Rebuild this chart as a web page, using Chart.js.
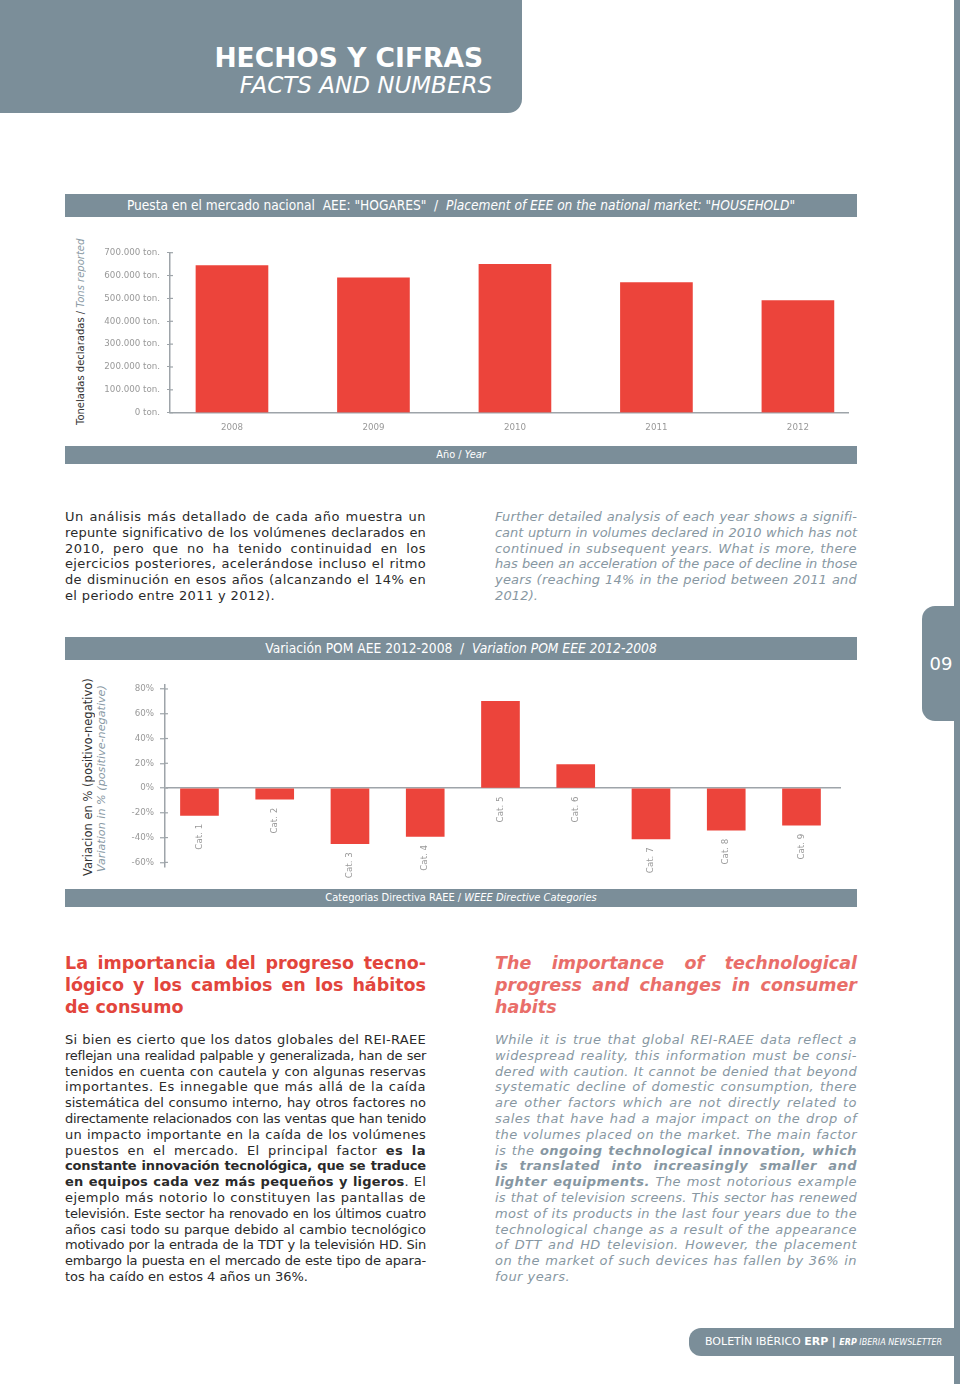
<!DOCTYPE html>
<html>
<head>
<meta charset="utf-8">
<script src="https://cdn.jsdelivr.net/npm/chart.js@4.4.1/dist/chart.umd.min.js"></script>
<style>
body { margin: 0; background: #fff; }
#page { position: relative; width: 960px; height: 1384px; overflow: hidden; font-family: "DejaVu Sans", Verdana, sans-serif; }
.grey { position: absolute; background: #7b8e99; color: #fff; }
.band { position: absolute; left: 65px; width: 792px; background: #7b8e99; color: #fff; text-align: center; white-space: nowrap;
        font-family: "DejaVu Sans Condensed", "Liberation Sans Narrow", "Liberation Sans", sans-serif; }
.small { font-family: "DejaVu Sans", sans-serif; }
.txt { position: absolute; font-size: 13px; }
.txt div { height: 15.8px; line-height: 15.8px; text-align: justify; text-align-last: justify; }
.txt div.end { text-align-last: left; }
.es { color: #2a2a2a; }
.en { color: #8797a2; font-style: italic; }
.head { position: absolute; font-size: 17.5px; font-weight: bold; }
.head div { height: 22px; line-height: 22px; text-align: justify; text-align-last: justify; }
.head div.end { text-align-last: left; }
.vt { position: absolute; writing-mode: vertical-rl; transform: rotate(180deg); white-space: nowrap; text-align: start; }
canvas { position: absolute; }
</style>
</head>
<body>
<div id="page">
  <!-- header -->
  <div class="grey" style="left:0;top:0;width:522px;height:113px;border-bottom-right-radius:14px;"></div>
  <div style="position:absolute;right:477px;top:43px;color:#fff;font-weight:bold;font-size:26.5px;line-height:30px;white-space:nowrap;">HECHOS Y CIFRAS</div>
  <div style="position:absolute;right:468px;top:72px;color:#fff;font-style:italic;font-size:23px;line-height:26px;white-space:nowrap;">FACTS AND NUMBERS</div>

  <!-- right strip and page tab -->
  <div class="grey" style="left:954px;top:0;width:6px;height:1384px;"></div>
  <div class="grey" style="left:922px;top:606px;width:38px;height:115px;border-radius:13px 0 0 13px;font-size:18px;line-height:115px;text-align:center;">09</div>

  <!-- chart 1 -->
  <div class="band" style="top:194px;height:23px;line-height:23px;font-size:13.6px;">Puesta en el mercado nacional&nbsp; AEE: "HOGARES"&nbsp; /&nbsp; <i>Placement of EEE on the national market: "HOUSEHOLD"</i></div>
  <div class="vt" style="left:74.5px;top:236px;height:189px;width:12px;line-height:12px;font-size:10px;"><span style="color:#333">Toneladas declaradas / </span><i style="color:#8a9aa5">Tons reported</i></div>
  <canvas id="tons" width="800" height="200" style="left:60px;top:240px;"></canvas>
  <div class="band small" style="top:446px;height:18px;line-height:18px;font-size:9.8px;">Año / <i>Year</i></div>

  <!-- paragraph 1 -->
  <div class="txt es" style="left:65px;top:509px;width:361px;">
    <div>Un análisis más detallado de cada año muestra un</div>
    <div>repunte significativo de los volúmenes declarados en</div>
    <div>2010, pero que no ha tenido continuidad en los</div>
    <div>ejercicios posteriores, acelerándose incluso el ritmo</div>
    <div>de disminución en esos años (alcanzando el 14% en</div>
    <div class="end">el periodo entre 2011 y 2012).</div>
  </div>
  <div class="txt en" style="left:495px;top:509px;width:362px;">
    <div>Further detailed analysis of each year shows a signifi-</div>
    <div>cant upturn in volumes declared in 2010 which has not</div>
    <div>continued in subsequent years. What is more, there</div>
    <div>has been an acceleration of the pace of decline in those</div>
    <div>years (reaching 14% in the period between 2011 and</div>
    <div class="end">2012).</div>
  </div>

  <!-- chart 2 -->
  <div class="band" style="top:637px;height:23px;line-height:23px;font-size:13.7px;">Variación POM AEE 2012-2008&nbsp; /&nbsp; <i>Variation POM EEE 2012-2008</i></div>
  <div class="vt" style="left:81.5px;top:660px;height:216px;width:13px;line-height:13px;font-size:11.5px;color:#333;">Variacion en % (positivo-negativo)</div>
  <div class="vt" style="left:95.5px;top:660px;height:212px;width:12px;line-height:12px;font-size:11.2px;color:#8a9aa5;font-style:italic;">Variation in % (positive-negative)</div>
  <canvas id="pom" width="800" height="215" style="left:60px;top:670px;"></canvas>
  <div class="band small" style="top:889px;height:18px;line-height:18px;font-size:9.9px;">Categorias Directiva RAEE / <i>WEEE Directive Categories</i></div>

  <!-- headings -->
  <div class="head" style="left:65px;top:952px;width:361px;color:#e2453c;">
    <div>La importancia del progreso tecno-</div>
    <div>lógico y los cambios en los hábitos</div>
    <div class="end">de consumo</div>
  </div>
  <div class="head" style="left:495px;top:952px;width:362px;color:#e96e69;font-style:italic;">
    <div>The importance of technological</div>
    <div>progress and changes in consumer</div>
    <div class="end">habits</div>
  </div>

  <!-- paragraph 2 -->
  <div class="txt es" style="left:65px;top:1032px;width:361px;">
    <div>Si bien es cierto que los datos globales del REI-RAEE</div>
    <div>reflejan una realidad palpable y generalizada, han de ser</div>
    <div>tenidos en cuenta con cautela y con algunas reservas</div>
    <div>importantes. Es innegable que más allá de la caída</div>
    <div>sistemática del consumo interno, hay otros factores no</div>
    <div>directamente relacionados con las ventas que han tenido</div>
    <div>un impacto importante en la caída de los volúmenes</div>
    <div>puestos en el mercado. El principal factor <b>es la</b></div>
    <div><b>constante innovación tecnológica, que se traduce</b></div>
    <div><b>en equipos cada vez más pequeños y ligeros</b>. El</div>
    <div>ejemplo más notorio lo constituyen las pantallas de</div>
    <div>televisión. Este sector ha renovado en los últimos cuatro</div>
    <div>años casi todo su parque debido al cambio tecnológico</div>
    <div>motivado por la entrada de la TDT y la televisión HD. Sin</div>
    <div>embargo la puesta en el mercado de este tipo de apara-</div>
    <div class="end">tos ha caído en estos 4 años un 36%.</div>
  </div>
  <div class="txt en" style="left:495px;top:1032px;width:362px;">
    <div>While it is true that global REI-RAEE data reflect a</div>
    <div>widespread reality, this information must be consi-</div>
    <div>dered with caution. It cannot be denied that beyond</div>
    <div>systematic decline of domestic consumption, there</div>
    <div>are other factors which are not directly related to</div>
    <div>sales that have had a major impact on the drop of</div>
    <div>the volumes placed on the market. The main factor</div>
    <div>is the <b>ongoing technological innovation, which</b></div>
    <div><b>is translated into increasingly smaller and</b></div>
    <div><b>lighter equipments.</b> The most notorious example</div>
    <div>is that of television screens. This sector has renewed</div>
    <div>most of its products in the last four years due to the</div>
    <div>technological change as a result of the appearance</div>
    <div>of DTT and HD television. However, the placement</div>
    <div>on the market of such devices has fallen by 36% in</div>
    <div class="end">four years.</div>
  </div>

  <!-- footer -->
  <div class="grey" style="left:689px;top:1328px;width:271px;height:28px;border-radius:12px 0 0 12px;line-height:28px;font-size:11px;white-space:nowrap;padding-left:16px;box-sizing:border-box;">BOLETÍN IBÉRICO <b>ERP</b> <b>|</b> <span style="font-size:8px;font-style:italic;"><b>ERP</b> IBERIA NEWSLETTER</span></div>
</div>

<script>
// Toneladas declaradas por año
var years = [2008, 2009, 2010, 2011, 2012];
var tons = [644000, 590000, 649000, 569000, 491000];
var tonTicks = [0, 100000, 200000, 300000, 400000, 500000, 600000, 700000];

// Variacion POM 2012-2008 por categoria
var cats = ["Cat. 1", "Cat. 2", "Cat. 3", "Cat. 4", "Cat. 5", "Cat. 6", "Cat. 7", "Cat. 8", "Cat. 9"];
var variation = [-22, -9, -45, -39, 70, 19, -41, -34, -30];
var pctTicks = [-60, -40, -20, 0, 20, 40, 60, 80];

var RED = "#ec443b";
var AXIS = "#9ea4a9";
var TICK = "#999999";

// spread each justified line with letter spacing first, like the wider original face
function fitLines() {
    document.querySelectorAll(".txt").forEach(function (block) {
        var W = block.clientWidth, used = [];
        var lines = block.querySelectorAll("div");
        lines.forEach(function (line) {
            if (line.classList.contains("end")) return;
            line.style.display = "inline-block";
            line.style.whiteSpace = "nowrap";
            var natural = line.getBoundingClientRect().width;
            line.style.display = "";
            line.style.whiteSpace = "";
            var ls = (W - 4 - natural) / line.textContent.length;
            ls = Math.max(-0.8, Math.min(0.45, ls));
            line.style.letterSpacing = ls.toFixed(3) + "px";
            used.push(ls);
        });
        used.sort(function (a, b) { return a - b; });
        var mid = used.length ? used[Math.floor(used.length / 2)] : 0;
        lines.forEach(function (line) {
            if (line.classList.contains("end")) line.style.letterSpacing = mid.toFixed(3) + "px";
        });
    });
}
fitLines();

Chart.defaults.font.family = "'DejaVu Sans', Verdana, sans-serif";

// small tick marks on the inner side of the y axis
var crossTicks = {
    id: "crossTicks",
    afterDraw: function (chart) {
        var y = chart.scales.y, ctx = chart.ctx, left = chart.chartArea.left;
        ctx.save();
        ctx.strokeStyle = AXIS;
        ctx.lineWidth = 1.2;
        y.ticks.forEach(function (t) {
            var py = y.getPixelForValue(t.value);
            ctx.beginPath();
            ctx.moveTo(left, py);
            ctx.lineTo(left + 3, py);
            ctx.stroke();
        });
        ctx.restore();
    }
};

// rotated category names under each bar
var barLabels = {
    id: "barLabels",
    afterDatasetsDraw: function (chart) {
        var ctx = chart.ctx, y = chart.scales.y;
        var zero = y.getPixelForValue(0);
        chart.getDatasetMeta(0).data.forEach(function (bar, i) {
            var end = variation[i] >= 0 ? zero : bar.y;
            ctx.save();
            ctx.translate(bar.x, end + 8.5);
            ctx.rotate(-Math.PI / 2);
            ctx.font = "8.7px 'DejaVu Sans', sans-serif";
            ctx.fillStyle = TICK;
            ctx.textAlign = "right";
            ctx.textBaseline = "middle";
            ctx.fillText(cats[i], 0, 0);
            ctx.restore();
        });
    }
};

new Chart(document.getElementById("tons"), {
    type: "bar",
    data: {
        datasets: [{
            data: years.map(function (yr, i) { return { x: yr, y: tons[i] }; }),
            backgroundColor: RED,
            barThickness: 72
        }]
    },
    options: {
        responsive: false,
        animation: false,
        layout: { padding: { top: 12.7, right: 12, bottom: 0, left: 0 } },
        plugins: { legend: { display: false }, tooltip: { enabled: false } },
        scales: {
            x: {
                type: "linear",
                offset: false,
                min: 2007.562,
                max: 2012.354,
                grid: { display: false, offset: false },
                border: { color: AXIS, width: 1.5 },
                afterBuildTicks: function (s) { s.ticks = years.map(function (v) { return { value: v }; }); },
                ticks: { color: TICK, font: { size: 8.7 }, padding: 2, maxRotation: 0, autoSkip: false,
                         callback: function (v) { return String(v); } },
                afterFit: function (s) { s.height = 27.3; }
            },
            y: {
                min: 0,
                max: 700000,
                afterBuildTicks: function (s) { s.ticks = tonTicks.map(function (v) { return { value: v }; }); },
                grid: { drawOnChartArea: false, tickLength: 3, tickColor: AXIS, tickWidth: 1.2 },
                border: { color: AXIS, width: 1.5 },
                ticks: { color: TICK, font: { size: 8.7 }, padding: 7,
                         callback: function (v) { return String(v).replace(/\B(?=(\d{3})+(?!\d))/g, ".") + " ton."; } },
                afterFit: function (s) { s.width = 110; }
            }
        }
    },
    plugins: [crossTicks]
});

new Chart(document.getElementById("pom"), {
    type: "bar",
    data: {
        datasets: [{
            data: cats.map(function (c, i) { return { x: i, y: variation[i] }; }),
            backgroundColor: RED,
            barThickness: 38
        }]
    },
    options: {
        responsive: false,
        animation: false,
        layout: { padding: { top: 15, right: 19, bottom: 18.3, left: 0 } },
        plugins: { legend: { display: false }, tooltip: { enabled: false } },
        scales: {
            x: { type: "linear", offset: false, min: -0.458, max: 8.525, display: false },
            y: {
                min: -63.5,
                max: 83.2,
                afterBuildTicks: function (s) { s.ticks = pctTicks.map(function (v) { return { value: v }; }); },
                grid: {
                    color: function (c) { return c.tick && c.tick.value === 0 ? AXIS : "rgba(0,0,0,0)"; },
                    lineWidth: 1.5,
                    tickLength: 5,
                    tickColor: AXIS,
                    tickWidth: 1.2
                },
                border: { color: AXIS, width: 1.5 },
                ticks: { color: TICK, font: { size: 8.7 }, padding: 6,
                         callback: function (v) { return v + "%"; } },
                afterFit: function (s) { s.width = 105; }
            }
        }
    },
    plugins: [crossTicks, barLabels]
});
</script>
</body>
</html>
